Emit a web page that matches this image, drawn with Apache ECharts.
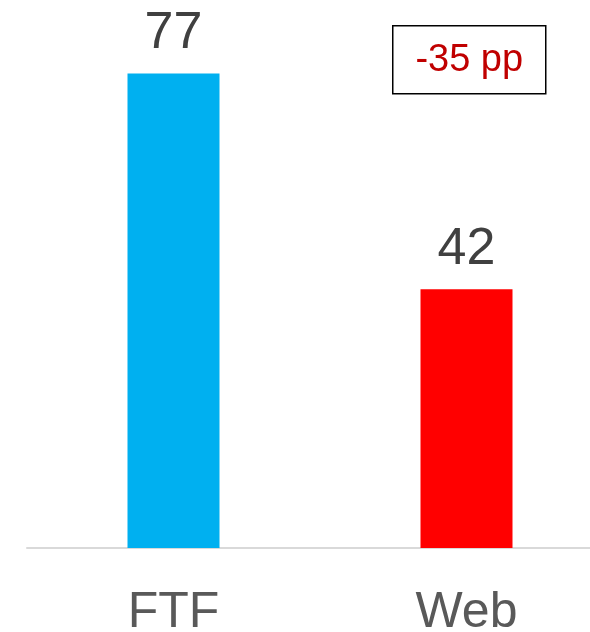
<!DOCTYPE html>
<html>
<head>
<meta charset="utf-8">
<script src="https://cdn.jsdelivr.net/npm/echarts@6/dist/echarts.min.js"></script>
<style>
  html, body { margin: 0; padding: 0; background: #fff; }
  #chart { width: 590px; height: 632px; }
</style>
</head>
<body>
<div id="chart"></div>
<script>
// categories and values
const categories = ['FTF', 'Web']
const values = [77, 42]
const barColors = ['#00B0F0', '#FF0000']

// difference shown in the box, in percentage points
const diffText = (values[1] - values[0]) + ' pp'

const chart = echarts.init(document.getElementById('chart'))

const option = {
  animation: false,
  grid: {
    left: 27,
    width: 586,
    top: 55,
    height: 493,
    outerBoundsMode: 'none',
    containLabel: false
  },
  xAxis: {
    type: 'category',
    data: categories,
    axisTick: { show: false },
    axisLine: { lineStyle: { color: '#d9d9d9', width: 2 } },
    axisLabel: {
      color: '#595959',
      fontSize: 50,
      fontFamily: 'Liberation Sans',
      margin: 40
    }
  },
  yAxis: {
    type: 'value',
    min: 0,
    max: 80,
    show: false,
    splitLine: { show: false }
  },
  series: [{
    type: 'bar',
    barWidth: 92,
    data: values.map((v, i) => ({ value: v, itemStyle: { color: barColors[i] } })),
    label: {
      show: true,
      position: 'top',
      distance: 14,
      color: '#404040',
      fontSize: 52,
      fontFamily: 'Liberation Sans'
    }
  }],
  graphic: [{
    type: 'group',
    left: 392,
    top: 25,
    children: [{
      type: 'rect',
      shape: { x: 0, y: 0, width: 153, height: 68 },
      style: { fill: '#fff', stroke: '#000', lineWidth: 1.5 }
    }, {
      type: 'text',
      x: 76.5,
      y: 35,
      style: {
        text: diffText,
        fill: '#C00000',
        font: '38px "Liberation Sans"',
        textAlign: 'center',
        textVerticalAlign: 'middle'
      }
    }]
  }]
}

chart.setOption(option)
</script>
</body>
</html>
